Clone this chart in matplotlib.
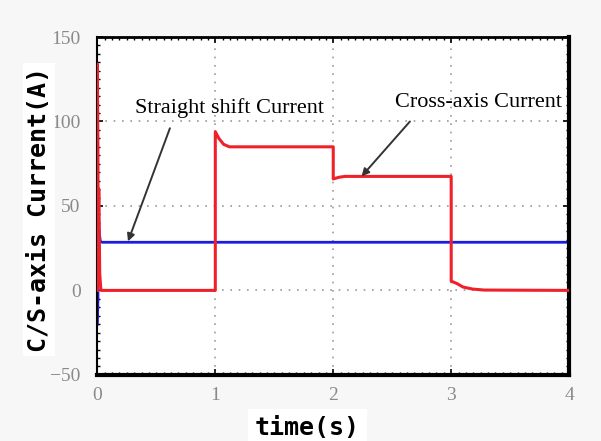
import matplotlib.pyplot as plt
from matplotlib.ticker import MultipleLocator

plt.switch_backend('agg')

# Cross-axis (red) current
cross_t = [0.0, 0.0, 0.004, 0.008, 0.012, 0.02, 0.03, 1.0, 1.0, 1.03, 1.07, 1.12, 1.18,
           2.0, 2.0, 2.05, 2.1, 3.0, 3.0, 3.05, 3.1, 3.18, 3.28, 4.0]
cross_i = [0.0, 134.0, 90.0, 30.0, 60.0, 10.0, 0.0, 0.0, 94.0, 90.0, 86.5, 85.0, 85.0,
           85.0, 66.0, 67.0, 67.5, 67.5, 5.5, 4.0, 2.0, 0.8, 0.2, 0.0]

# Straight-shift (blue) current
straight_t = [0.0, 0.005, 0.01, 0.015, 0.025, 0.04, 4.0]
straight_i = [-20.0, -5.0, 45.0, 35.0, 29.0, 28.5, 28.5]

x_ticks = [0, 1, 2, 3, 4]
y_ticks = [-50, 0, 50, 100, 150]

fig = plt.figure(figsize=(6.01, 4.41), dpi=100, facecolor='#f7f7f7')
ax = fig.add_axes([0.162, 0.150, 0.785, 0.766])
ax.set_facecolor('white')

ax.plot(cross_t, cross_i, color='#f0202a', linewidth=2.2, zorder=3)
ax.plot(straight_t, straight_i, color='#1c1ce0', linewidth=2.0, zorder=2)

ax.set_xlim(0, 4)
ax.set_ylim(-50, 150)
ax.set_xticks(x_ticks)
ax.set_yticks(y_ticks)
ax.xaxis.set_minor_locator(MultipleLocator(0.0625))
ax.yaxis.set_minor_locator(MultipleLocator(5))
ax.tick_params(which='both', direction='in', top=True, right=True, colors='black',
               labelcolor='#8a8a8a', labelsize=14)
ax.tick_params(which='major', length=4, width=1.2)
ax.tick_params(which='minor', length=2, width=1)
ax.tick_params(axis='x', pad=9)
ax.tick_params(axis='y', pad=12)
for lab in ax.get_xticklabels() + ax.get_yticklabels():
    lab.set_family('Liberation Serif')

ax.grid(True, which='major', color='#9a9a9a', linestyle=(0, (1, 4)), linewidth=1.2)

ax.spines['left'].set_linewidth(1.5)
ax.spines['top'].set_linewidth(2.0)
ax.spines['right'].set_linewidth(3.0)
ax.spines['bottom'].set_linewidth(3.0)

ax.set_ylabel('C/S-axis Current(A)', family='DejaVu Sans Mono', fontweight='bold',
              fontsize=18, bbox=dict(facecolor='white', edgecolor='none', pad=3))
ax.yaxis.set_label_coords(-0.098, 0.49)
ax.set_xlabel('time(s)', family='DejaVu Sans Mono', fontweight='bold', fontsize=18,
              va='center', bbox=dict(facecolor='white', edgecolor='none', pad=5))
ax.xaxis.set_label_coords(0.445, -0.158)

ax.text(1.12, 108, 'Straight shift Current', ha='center', va='center',
        family='Liberation Serif', fontsize=16)
ax.text(3.23, 111, 'Cross-axis Current', ha='center', va='center',
        family='Liberation Serif', fontsize=16)
ax.annotate('', xy=(0.26, 29), xytext=(0.615, 96),
            arrowprops=dict(arrowstyle='-|>', color='#333333', lw=1.4,
                            shrinkA=0, shrinkB=0, mutation_scale=11))
ax.annotate('', xy=(2.24, 67.5), xytext=(2.65, 100),
            arrowprops=dict(arrowstyle='-|>', color='#333333', lw=1.4,
                            shrinkA=0, shrinkB=0, mutation_scale=11))

plt.savefig('out.png', dpi=100, facecolor=fig.get_facecolor())
plt.close()
